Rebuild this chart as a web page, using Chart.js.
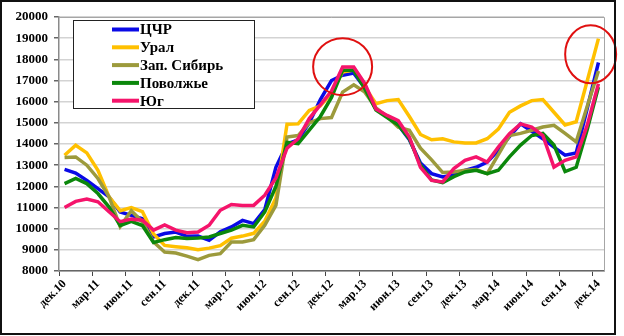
<!DOCTYPE html>
<html lang="ru">
<head>
<meta charset="utf-8">
<title>Цены по регионам</title>
<script src="https://cdn.jsdelivr.net/npm/chart.js@4/dist/chart.umd.min.js"></script>
<style>
    html, body { margin: 0; padding: 0; background: #fff; }
    .wrap { position: relative; width: 624px; height: 336px; }
    .frame {
        position: absolute; left: 0; top: 0;
        width: 612px; height: 331px;
        border: 2px solid #111;
        pointer-events: none;
    }
</style>
</head>
<body>
<div class="wrap">
    <canvas id="priceChart" width="624" height="336"></canvas>
    <div class="frame"></div>
</div>
<script>
// Months, Dec 2010 .. Dec 2014
const months = [
    'дек.10', 'янв.11', 'фев.11', 'мар.11', 'апр.11', 'май.11', 'июн.11', 'июл.11', 'авг.11', 'сен.11', 'окт.11', 'ноя.11',
    'дек.11', 'янв.12', 'фев.12', 'мар.12', 'апр.12', 'май.12', 'июн.12', 'июл.12', 'авг.12', 'сен.12', 'окт.12', 'ноя.12',
    'дек.12', 'янв.13', 'фев.13', 'мар.13', 'апр.13', 'май.13', 'июн.13', 'июл.13', 'авг.13', 'сен.13', 'окт.13', 'ноя.13',
    'дек.13', 'янв.14', 'фев.14', 'мар.14', 'апр.14', 'май.14', 'июн.14', 'июл.14', 'авг.14', 'сен.14', 'окт.14', 'ноя.14',
    'дек.14'
];

const cchr = [
    12800, 12630, 12280, 11890, 11500, 10790, 10630, 10470, 9610, 9770, 9840, 9640,
    9650, 9450, 9850, 10080, 10390, 10240, 10900, 12900, 14000, 14200, 15000, 16100,
    17000, 17250, 17350, 16650, 15650, 15300, 14900, 14200, 13100, 12600, 12440, 12550,
    12750, 12900, 13150, 13700, 14350, 14950, 14600, 14250, 13850, 13470, 13580, 15700,
    17850
];

const ural = [
    13470, 13940, 13580, 12760, 11500, 10850, 11000, 10800, 9750, 9210, 9150, 9100,
    9000, 9080, 9200, 9550, 9650, 9780, 10350, 11450, 14930, 14950, 15590, 15800,
    16400, 17400, 17500, 16700, 15900, 16050, 16100, 15300, 14450, 14200, 14250, 14100,
    14050, 14050, 14250, 14700, 15500, 15800, 16050, 16100, 15500, 14900, 15050, 17000,
    18980
];

const zapSibir = [
    13360, 13390, 13000, 12370, 11500, 10100, 10850, 10320, 9370, 8900, 8850, 8700,
    8540, 8740, 8820, 9370, 9370, 9480, 10160, 11100, 14330, 14400, 15000, 15200,
    15250, 16450, 16800, 16450, 15700, 15300, 14800, 14650, 13800, 13250, 12650, 12680,
    12760, 12790, 12600, 13500, 14400, 14500, 14650, 14800, 14880, 14500, 14100, 15800,
    17450
];

const povolzhye = [
    12130, 12370, 12130, 11660, 11020, 10150, 10350, 10150, 9350, 9480, 9580, 9530,
    9560, 9610, 9770, 9930, 10160, 10080, 10790, 12000, 14080, 14020, 14650, 15300,
    16200, 17480, 17480, 16600, 15600, 15250, 14900, 14250, 13000, 12300, 12170, 12460,
    12680, 12760, 12600, 12760, 13390, 13950, 14400, 14500, 13950, 12700, 12900, 14700,
    16690
];

const yug = [
    11000, 11290, 11400, 11270, 10800, 10330, 10450, 10400, 9930, 10180, 9930, 9810,
    9840, 10160, 10870, 11140, 11100, 11100, 11580, 12400, 13800, 14250, 15200, 15850,
    16500, 17640, 17640, 16850, 15650, 15350, 15100, 14330, 12900, 12280, 12210, 12840,
    13230, 13390, 13150, 13860, 14490, 14950, 14800, 14400, 12910, 13230, 13390, 14900,
    16850
];

// Red circles marking the two peaks (month index, price)
const highlights = [
    { index: 25, value: 17650, rx: 29.5, ry: 28.5 },
    { index: 47.3, value: 18240, rx: 25.5, ry: 29 }
];

const serif = "'Liberation Serif', 'Times New Roman', serif";

document.addEventListener('DOMContentLoaded', function() {
    // Legend box inside the plot + frame + highlight circles
    const overlayPlugin = {
        id: 'overlay',
        afterDatasetsDraw(chart) {
            const ctx = chart.ctx;
            const area = chart.chartArea;
            const xs = chart.scales.x;
            const ys = chart.scales.y;

            ctx.save();
            // plot frame (top / right)
            ctx.strokeStyle = '#a6a6a6';
            ctx.lineWidth = 1;
            ctx.beginPath();
            ctx.moveTo(area.left, area.top + 0.5);
            ctx.lineTo(area.right + 0.5, area.top + 0.5);
            ctx.lineTo(area.right + 0.5, area.bottom);
            ctx.stroke();

            // highlight circles
            ctx.strokeStyle = '#e01010';
            ctx.lineWidth = 2;
            highlights.forEach(h => {
                const base = Math.floor(h.index);
                const p0 = xs.getPixelForValue(base);
                const p1 = xs.getPixelForValue(base + 1);
                const cx = p0 + (h.index - base) * (p1 - p0);
                const cy = ys.getPixelForValue(h.value);
                ctx.beginPath();
                ctx.ellipse(cx, cy, h.rx, h.ry, 0, 0, Math.PI * 2);
                ctx.stroke();
            });

            // legend
            const box = { x: 73.5, y: 20.5, w: 181, h: 88 };
            ctx.fillStyle = '#fff';
            ctx.fillRect(box.x, box.y, box.w, box.h);
            ctx.strokeStyle = '#222';
            ctx.lineWidth = 1;
            ctx.strokeRect(box.x, box.y, box.w, box.h);

            ctx.font = 'bold 15px ' + serif;
            ctx.textBaseline = 'middle';
            ctx.textAlign = 'left';
            const ds = chart.data.datasets;
            ds.forEach((d, i) => {
                const y = box.y + 9 + i * 17.8;
                ctx.strokeStyle = d.borderColor;
                ctx.lineWidth = 4;
                ctx.beginPath();
                ctx.moveTo(112, y);
                ctx.lineTo(139, y);
                ctx.stroke();
                ctx.fillStyle = '#000';
                ctx.fillText(d.label, 140, y + 1);
            });
            ctx.restore();
        }
    };

    const lineStyle = { borderWidth: 3.5, pointRadius: 0, fill: false, tension: 0 };

    new Chart(document.getElementById('priceChart').getContext('2d'), {
        type: 'line',
        data: {
            labels: months,
            datasets: [
                Object.assign({ label: 'ЦЧР', data: cchr, borderColor: '#0a0ae6', order: 4 }, lineStyle),
                Object.assign({ label: 'Урал', data: ural, borderColor: '#ffc000', order: 3 }, lineStyle),
                Object.assign({ label: 'Зап. Сибирь', data: zapSibir, borderColor: '#9c9a3c', order: 2 }, lineStyle),
                Object.assign({ label: 'Поволжье', data: povolzhye, borderColor: '#0b870b', order: 1 }, lineStyle),
                Object.assign({ label: 'Юг', data: yug, borderColor: '#f5146b', order: 0 }, lineStyle)
            ]
        },
        options: {
            responsive: false,
            animation: false,
            layout: { padding: { left: 0, right: 20, top: 17, bottom: 0 } },
            plugins: {
                legend: { display: false },
                tooltip: { enabled: false }
            },
            scales: {
                x: {
                    offset: true,
                    afterFit: scale => { scale.height = 65; },
                    border: { color: '#666', width: 1.5 },
                    grid: {
                        offset: true,
                        drawOnChartArea: false,
                        tickLength: 5,
                        color: c => (c.index % 3 === 0 ? '#444' : 'rgba(0,0,0,0)')
                    },
                    ticks: {
                        autoSkip: false,
                        maxRotation: 45,
                        minRotation: 45,
                        padding: 1,
                        color: '#000',
                        font: { family: serif, size: 12, weight: 'bold' },
                        callback: function(value, index) {
                            return index % 3 === 0 ? this.getLabelForValue(value) : '';
                        }
                    }
                },
                y: {
                    min: 8000,
                    max: 20000,
                    afterFit: scale => { scale.width = 59; },
                    border: { color: '#8a8a8a', width: 1.5 },
                    grid: {
                        color: '#d3d3d3',
                        lineWidth: 1.5,
                        tickLength: 5,
                        tickColor: '#666'
                    },
                    ticks: {
                        stepSize: 1000,
                        padding: 6,
                        color: '#000',
                        font: { family: serif, size: 13, weight: 'bold' },
                        callback: value => String(value)
                    }
                }
            }
        },
        plugins: [overlayPlugin]
    });
});
</script>
</body>
</html>
